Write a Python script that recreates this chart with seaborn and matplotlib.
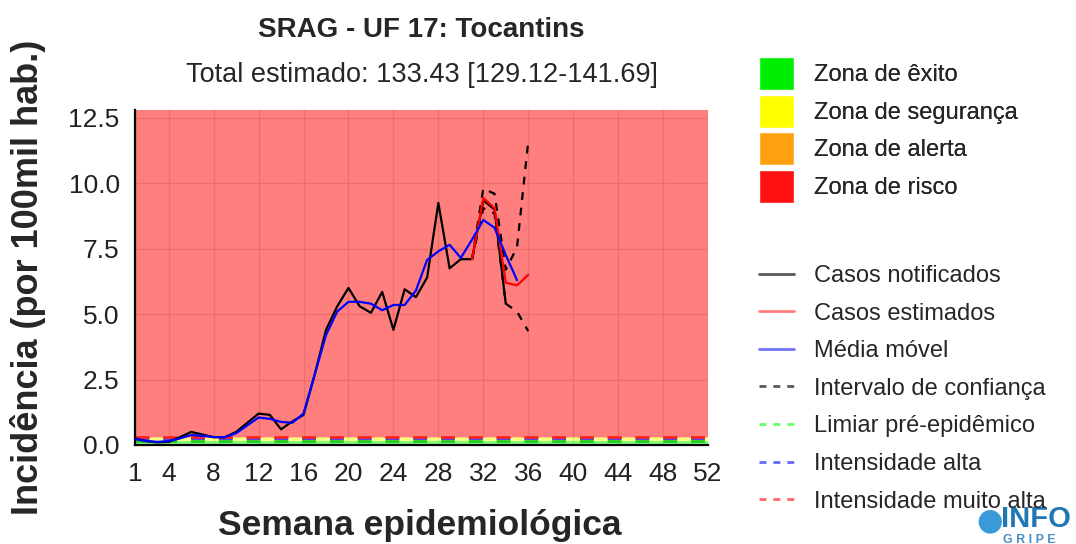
# coding: utf-8
"""
Gráfico de incidência de SRAG - Tocantins (InfoGripe)
"""

import pandas as pd
import seaborn as sns
import matplotlib.pyplot as plt
from matplotlib.lines import Line2D
from matplotlib.patches import Patch

sns.set_style("white")
plt.rcParams['font.family'] = ['Liberation Sans', 'DejaVu Sans']

# semanas epidemiológicas
semanas = list(range(1, 35))
casos_notificados = [0.25, 0.15, 0.10, 0.12, 0.30, 0.50, 0.40, 0.30, 0.30, 0.50,
                     0.85, 1.20, 1.15, 0.60, 0.90, 1.15, 2.70, 4.40, 5.30, 6.00,
                     5.30, 5.05, 5.85, 4.40, 5.95, 5.65, 6.40, 9.25, 6.75, 7.10,
                     7.10, 9.35, 9.00, 5.40]
semanas_media = list(range(1, 36))
media_movel = [0.23, 0.15, 0.12, 0.15, 0.25, 0.38, 0.35, 0.30, 0.30, 0.45,
               0.75, 1.05, 1.00, 0.88, 0.85, 1.20, 2.70, 4.20, 5.10, 5.47,
               5.47, 5.40, 5.15, 5.35, 5.35, 5.90, 7.07, 7.40, 7.65, 7.15,
               7.85, 8.60, 8.30, 7.26, 6.30]
semanas_est = [31, 32, 33, 34, 35, 36]
casos_estimados = [7.10, 9.44, 9.05, 6.20, 6.10, 6.50]
ic_inferior = [7.10, 9.05, 8.85, 5.40, 5.10, 4.35]
ic_superior = [7.10, 9.80, 9.60, 6.70, 7.55, 11.60]

limiar_pre = 0.16
intensidade_alta = 0.27
intensidade_muito_alta = 0.31
y_max = 12.8

x_ticks = [1, 4, 8, 12, 16, 20, 24, 28, 32, 36, 40, 44, 48, 52]
y_ticks = [0.0, 2.5, 5.0, 7.5, 10.0, 12.5]

df_not = pd.DataFrame({'semana': semanas, 'valor': casos_notificados})
df_mm = pd.DataFrame({'semana': semanas_media, 'valor': media_movel})
df_est = pd.DataFrame({'semana': semanas_est, 'estimado': casos_estimados,
                       'inf': ic_inferior, 'sup': ic_superior})

fig = plt.figure(figsize=(10.76, 5.44), dpi=100)
ax = fig.add_axes([135 / 1076, 1 - 445 / 544, 573 / 1076, 335 / 544])

# grade por baixo das zonas
ax.set_axisbelow(True)
ax.grid(True, color='#dedede', linewidth=1.0, zorder=0)

# zonas
ax.axhspan(0, limiar_pre, color='#00ff00', alpha=0.5, lw=0, zorder=1)
ax.axhspan(limiar_pre, intensidade_alta, color='#ffff00', alpha=0.5, lw=0, zorder=1)
ax.axhspan(intensidade_alta, intensidade_muito_alta, color='#ffa500', alpha=0.5, lw=0, zorder=1)
ax.axhspan(intensidade_muito_alta, y_max, color='#ff0000', alpha=0.5, lw=0, zorder=1)

# limiares
ax.axhline(limiar_pre, color='#22cc22', lw=2, linestyle=(0, (5, 5)), zorder=2)
ax.axhline(intensidade_alta, color='#3333ff', lw=2, linestyle=(0, (5, 5)), zorder=2)
ax.axhline(intensidade_muito_alta, color='#ff2020', lw=2, linestyle=(0, (5, 5)), zorder=2)

sns.lineplot(data=df_est, x='semana', y='inf', ax=ax, color='black', lw=1.6,
             linestyle=(0, (3.5, 3.5)), zorder=3)
sns.lineplot(data=df_est, x='semana', y='sup', ax=ax, color='black', lw=1.6,
             linestyle=(0, (3.5, 3.5)), zorder=3)
sns.lineplot(data=df_not, x='semana', y='valor', ax=ax, color='black', lw=1.6, zorder=4)
sns.lineplot(data=df_est, x='semana', y='estimado', ax=ax, color='#ff0000', lw=1.6, zorder=5)
sns.lineplot(data=df_mm, x='semana', y='valor', ax=ax, color='#0000ff', lw=1.6, zorder=6)

ax.set_xlim(1, 52)
ax.set_ylim(0, y_max)
ax.set_xticks(x_ticks)
ax.set_yticks(y_ticks)
ax.set_yticklabels([f'{v:.1f}' for v in y_ticks])
ax.set_xlabel('')
ax.set_ylabel('')
for s in ['top', 'right']:
    ax.spines[s].set_visible(False)
for s in ['left', 'bottom']:
    ax.spines[s].set_color('black')
    ax.spines[s].set_linewidth(1.6)
ax.tick_params(axis='both', direction='out', length=6, width=1.5, color='#333333',
               labelsize=19, labelcolor='#222222')
ax.tick_params(axis='x', pad=6)
ax.tick_params(axis='y', pad=5)

# títulos
cx = (135 + 708) / 2 / 1076
fig.text(cx, 1 - 30 / 544, 'SRAG - UF 17: Tocantins', ha='center', va='center',
         fontsize=20, fontweight='bold')
fig.text(cx, 1 - 75 / 544, 'Total estimado: 133.43 [129.12-141.69]', ha='center',
         va='center', fontsize=19.5)
fig.text(28 / 1076, 1 - 277 / 544, 'Incidência (por 100mil hab.)', rotation=90,
         ha='center', va='center', fontsize=26, fontweight='bold')
fig.text(420 / 1076, 1 - 525 / 544, 'Semana epidemiológica', ha='center', va='center',
         fontsize=25.5, fontweight='bold')

# legendas
zonas = [Patch(facecolor='#00ee00', label='Zona de êxito'),
         Patch(facecolor='#ffff00', label='Zona de segurança'),
         Patch(facecolor='#ffa010', label='Zona de alerta'),
         Patch(facecolor='#ff1010', label='Zona de risco')]
leg1 = fig.legend(handles=zonas, loc='upper left', bbox_to_anchor=(759 / 1076, 1 - 57 / 544),
                  frameon=False, borderpad=0, borderaxespad=0, handlelength=1.48,
                  handleheight=1.77, handletextpad=0.85, labelspacing=0.2,
                  prop={'size': 17})

dash = (0, (2.5, 2.5))
linhas = [Line2D([], [], color='black', lw=2, alpha=0.65, label='Casos notificados'),
          Line2D([], [], color='#ff0000', lw=2, alpha=0.5, label='Casos estimados'),
          Line2D([], [], color='#0000ff', lw=2, alpha=0.55, label='Média móvel'),
          Line2D([], [], color='black', lw=2, alpha=0.65, linestyle=dash,
                 label='Intervalo de confiança'),
          Line2D([], [], color='#00ff00', lw=2, alpha=0.6, linestyle=dash,
                 label='Limiar pré-epidêmico'),
          Line2D([], [], color='#0000ff', lw=2, alpha=0.6, linestyle=dash,
                 label='Intensidade alta'),
          Line2D([], [], color='#ff0000', lw=2, alpha=0.6, linestyle=dash,
                 label='Intensidade muito alta')]
fig.legend(handles=linhas, loc='upper left', bbox_to_anchor=(759 / 1076, 1 - 265 / 544),
           frameon=False, borderpad=0, borderaxespad=0, handlelength=1.48,
           handletextpad=0.85, labelspacing=0.66, prop={'size': 17})
fig.add_artist(leg1)

# logo
fig.text(990 / 1076, 1 - 521 / 544, '●', ha='center', va='center', fontsize=22,
         color='#3a9ad9', family=['DejaVu Sans'])
fig.text(1001 / 1076, 1 - 519 / 544, 'INFO', ha='left', va='center', fontsize=21,
         fontweight='bold', color='#1f78b4')
fig.text(1003 / 1076, 1 - 540 / 544, 'G R I P E', ha='left', va='center', fontsize=9,
         fontweight='bold', color='#4a8fc4')

fig.savefig('out.png', dpi=100)
